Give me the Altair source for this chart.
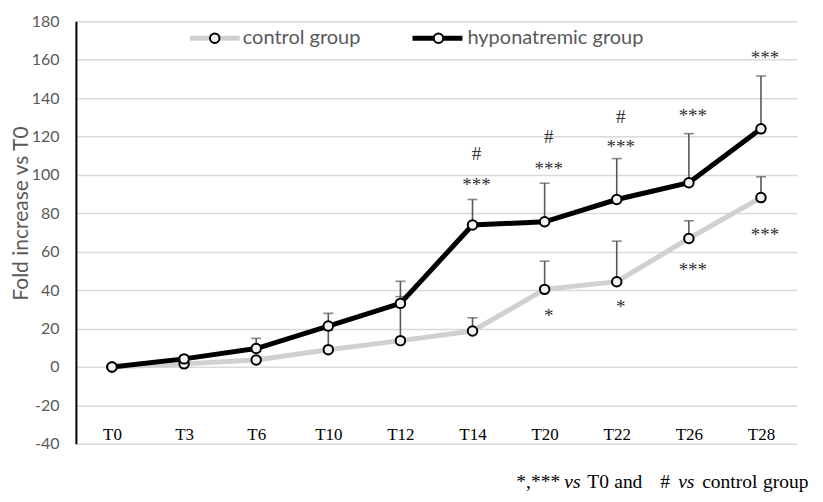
import altair as alt
import pandas as pd

cats = ["T0", "T3", "T6", "T10", "T12", "T14", "T20", "T22", "T26", "T28"]
control = [0, 1.6, 3.6, 9.0, 13.7, 18.7, 40.4, 44.4, 66.9, 88.2]
control_upper = [0, 2.0, 5.0, 19.0, 36.6, 25.6, 55.1, 65.5, 76.1, 99.0]
hypo = [0, 4.2, 9.6, 21.3, 33.1, 73.9, 75.6, 87.2, 95.9, 124.0]
hypo_upper = [0, 5.5, 14.9, 27.9, 44.6, 87.2, 95.7, 108.5, 121.5, 151.5]

ann_cat = ["T14", "T14", "T20", "T20", "T22", "T22", "T26", "T28", "T20", "T22", "T26", "T28"]
ann_text = ["#", "***", "#", "***", "#", "***", "***", "***", "*", "*", "***", "***"]
ann_y = [111.8, 95.7, 120.6, 104.0, 131.0, 115.5, 131.6, 161.8, 27.6, 32.2, 51.5, 69.7]

legend_labels = ["control group", "hyponatremic group"]
foot_parts = ["*,***", "vs", "T0", "and", "#", "vs", "control", "group"]
foot_italic = [False, True, False, False, False, True, False, False]
foot_x = [441, 489, 512, 539, 585, 603, 627, 688]

y_ticks = list(range(-40, 181, 20))

GRAY_TXT = "#595959"
CTRL_COL = "#d0d0d0"
HYPO_COL = "#000000"
ERR_COL = "#595959"

df_c = pd.DataFrame({"cat": cats, "value": control, "upper": control_upper})
df_h = pd.DataFrame({"cat": cats, "value": hypo, "upper": hypo_upper})
df_ann = pd.DataFrame({"cat": ann_cat, "text": ann_text, "y": ann_y})
one = pd.DataFrame({"d": [0]})

yscale = alt.Scale(domain=[-40, 180], nice=False, zero=False)
yaxis = alt.Axis(
    values=y_ticks, title="Fold increase vs T0", grid=True, gridColor="#d9d9d9", gridWidth=1.5,
    domain=True, domainColor="#000000", domainWidth=2, ticks=False, tickSize=0,
    labelExpr="toString(datum.value)",
    labelPadding=17, labelFont="Lato", labelFontSize=16, labelColor=GRAY_TXT,
    titleFont="Lato", titleFontSize=21, titleFontWeight="normal", titleColor=GRAY_TXT,
    titleX=-54, titleY=192, titleBaseline="middle", titleAlign="center", titleAngle=270,
)
xscale = alt.Scale(type="point", padding=0.5)
xaxis = alt.Axis(
    title=None, domain=False, ticks=False, tickSize=0, grid=False, labelAngle=0,
    labelFont="Liberation Serif", labelFontSize=17, labelColor="#000000",
    labelPadding=-4, labelBaseline="alphabetic",
)


def X():
    return alt.X("cat:N", sort=cats, scale=xscale, axis=xaxis)


def Y(field):
    return alt.Y(f"{field}:Q", scale=yscale, axis=yaxis)


layers = []
for d in (df_c, df_h):
    err = d[d["upper"] > d["value"]]
    layers.append(
        alt.Chart(err).mark_rule(color=ERR_COL, strokeWidth=1.6).encode(
            x=X(), y=Y("value"), y2="upper:Q"
        )
    )
    layers.append(
        alt.Chart(err).mark_tick(color=ERR_COL, thickness=1.6, size=10, orient="horizontal").encode(
            x=X(), y=Y("upper")
        )
    )

for d, col in ((df_c, CTRL_COL), (df_h, HYPO_COL)):
    layers.append(alt.Chart(d).mark_line(color=col, strokeWidth=5).encode(x=X(), y=Y("value")))
    layers.append(
        alt.Chart(d).mark_point(
            shape="circle", filled=True, fill="#f2f2f2", stroke="#000000", strokeWidth=2,
            size=90, opacity=1,
        ).encode(x=X(), y=Y("value"))
    )

layers.append(
    alt.Chart(df_ann).mark_text(
        font="Liberation Serif", fontSize=19, color="#333333", baseline="middle", dx=4, dy=2
    ).encode(x=X(), y=Y("y"), text="text:N")
)

# legend
leg = [(114, 164, 139, 167, CTRL_COL, legend_labels[0]), (337, 387, 363, 392, HYPO_COL, legend_labels[1])]
for x1, x2, xc, xt, col, lab in leg:
    layers.append(
        alt.Chart(one).mark_rule(color=col, strokeWidth=5).encode(
            x=alt.value(x1), x2=alt.value(x2), y=alt.value(17)
        )
    )
    layers.append(
        alt.Chart(one).mark_point(
            shape="circle", filled=True, fill="#f2f2f2", stroke="#000000", strokeWidth=2,
            size=90, opacity=1,
        ).encode(x=alt.value(xc), y=alt.value(17))
    )
    layers.append(
        alt.Chart(one).mark_text(
            font="Lato", fontSize=20, color=GRAY_TXT, align="left", baseline="middle", text=lab
        ).encode(x=alt.value(xt), y=alt.value(17))
    )

# footnote
for part, ital, fx in zip(foot_parts, foot_italic, foot_x):
    layers.append(
        alt.Chart(one).mark_text(
            font="Liberation Serif", fontSize=19.5, color="#000000", align="left",
            baseline="alphabetic", fontStyle="italic" if ital else "normal", text=part
        ).encode(x=alt.value(fx), y=alt.value(467))
    )

chart = alt.layer(*layers).properties(
    width=722, height=423,
    autosize=alt.AutoSizeParams(type="none"),
    padding={"left": 68, "top": 13, "right": 18, "bottom": 50},
).configure_view(stroke=None)

chart.save("out.html", embed_options={"renderer": "svg", "actions": False})
